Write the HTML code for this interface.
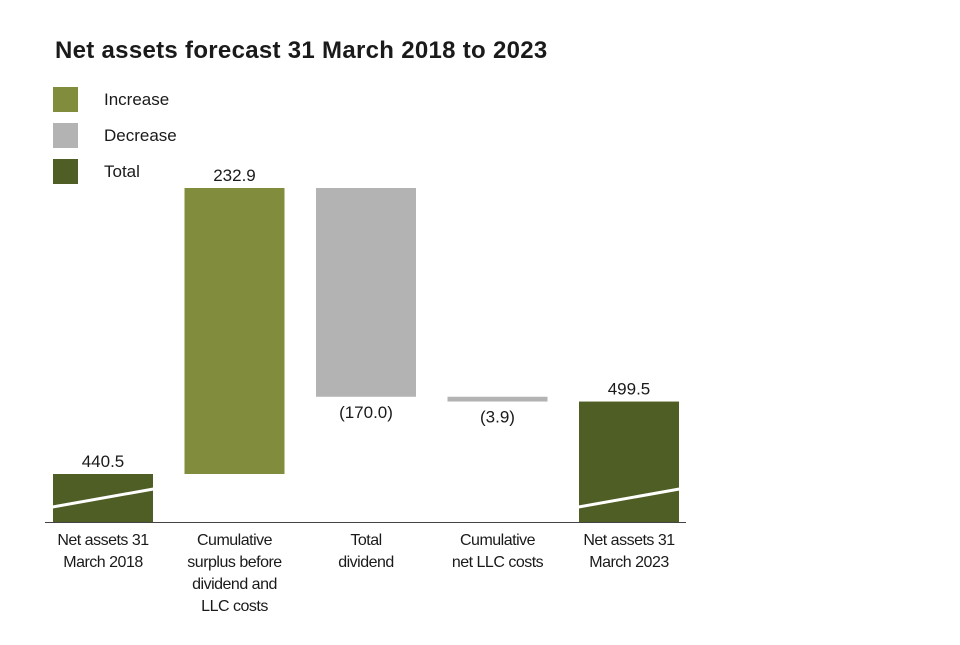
<!DOCTYPE html>
<html><head><meta charset="utf-8">
<style>
body{margin:0;background:#fff;}
svg text{font-family:"Liberation Sans",sans-serif;fill:#1a1a1a;}
</style></head>
<body>
<svg width="960" height="640">
<text x="55" y="58" font-size="24" font-weight="bold" style="letter-spacing:0.3px">Net assets forecast 31 March 2018 to 2023</text>
<g>
<rect x="53" y="87" width="25" height="25" fill="#818c3c"/>
<text x="104" y="105" font-size="17">Increase</text>
<rect x="53" y="123" width="25" height="25" fill="#b3b3b3"/>
<text x="104" y="141" font-size="17">Decrease</text>
<rect x="53" y="159" width="25" height="25" fill="#4f5e24"/>
<text x="104" y="177" font-size="17">Total</text>
</g>
<g id="plot"></g>
</svg>
<script>
const categories=[["Net assets 31","March 2018"],["Cumulative","surplus before","dividend and","LLC costs"],["Total","dividend"],["Cumulative","net LLC costs"],["Net assets 31","March 2023"]];
const values=[440.5,232.9,-170.0,-3.9,499.5];
const types=["total","increase","decrease","decrease","total"];
const labels=["440.5","232.9","(170.0)","(3.9)","499.5"];
const ns="http://www.w3.org/2000/svg";
const g=document.getElementById('plot');
const baseY=522, pxPer=1.228, refV=440.5, refY=474;
function yScale(v){return refY-(v-refV)*pxPer;}
function xScale(i){return 53+i*131.5;}
const bw=100;
const colors={total:"#4f5e24",increase:"#818c3c",decrease:"#b3b3b3"};
function mk(tag,attrs){const e=document.createElementNS(ns,tag);for(const k in attrs)e.setAttribute(k,attrs[k]);g.appendChild(e);return e;}
let run=0;
values.forEach((v,i)=>{
  let top,bot;
  if(types[i]==="total"){run=v;top=yScale(v);bot=baseY;}
  else{const a=run,b=run+v;run=b;top=yScale(Math.max(a,b));bot=yScale(Math.min(a,b));}
  const x=xScale(i);
  const r=mk('rect',{x:x,y:top,width:bw,height:Math.max(bot-top,1),fill:colors[types[i]]});
  
  
  if(types[i]==="total"){
    const l=mk('line',{x1:x-6,y1:baseY-14,x2:x+bw+6,y2:baseY-34,stroke:"#fff","stroke-width":3});
    
    
  }
  const ly = v<0 ? bot+21 : top-7;
  const t=mk('text',{x:x+bw/2,y:ly,"font-size":17,"text-anchor":"middle"});
  t.textContent=labels[i];
  
  
  categories[i].forEach((ln,j)=>{
    const c=mk('text',{x:x+bw/2,y:545+j*22,"font-size":16,"text-anchor":"middle",style:"letter-spacing:-0.5px"});
    c.textContent=ln;
    
    
  });
});
const ax=mk('line',{x1:45,y1:baseY+0.5,x2:686,y2:baseY+0.5,stroke:"#444","stroke-width":1});


</script>
</body></html>
